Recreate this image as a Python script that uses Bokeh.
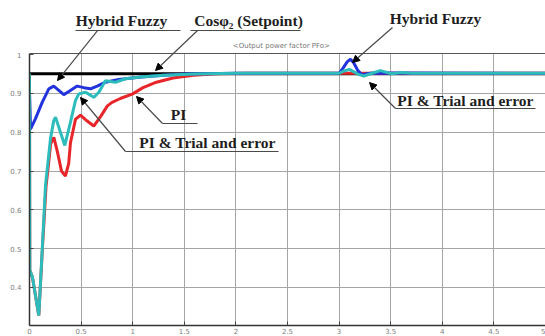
from bokeh.plotting import figure
from bokeh.models import Range1d, FixedTicker, Label, Arrow, NormalHead, Span, Grid
from bokeh.embed import file_html
from bokeh.resources import INLINE

# ---------------- data ----------------
x_ticks = [0, 0.5, 1, 1.5, 2, 2.5, 3, 3.5, 4, 4.5, 5]
x_tick_labels = ["0", "0.5", "1", "1.5", "2", "2.5", "3", "3.5", "4", "4.5", "5"]
y_ticks = [0.4, 0.5, 0.6, 0.7, 0.8, 0.9, 1.0]
y_tick_labels = ["0.4", "0.5", "0.6", "0.7", "0.8", "0.9", "1"]

setpoint_t = [0, 5]
setpoint_pf = [0.951, 0.951]

fuzzy_t = [0, 0.01, 0.058, 0.123, 0.187, 0.235, 0.284, 0.332, 0.381, 0.462, 0.526,
           0.591, 0.656, 0.736, 0.865, 1.059, 1.3, 1.5, 2.0, 3.0, 3.04, 3.08, 3.11,
           3.14, 3.18, 3.22, 3.3, 3.4, 5.0]
fuzzy_pf = [0.905, 0.808, 0.835, 0.877, 0.912, 0.919, 0.908, 0.897, 0.905, 0.919, 0.915,
            0.912, 0.919, 0.929, 0.936, 0.942, 0.947, 0.95, 0.952, 0.952, 0.966, 0.982, 0.988,
            0.98, 0.96, 0.948, 0.952, 0.953, 0.952]

trial_t = [0, 0.003, 0.029, 0.09, 0.12, 0.155, 0.203, 0.235, 0.252, 0.3, 0.342, 0.397,
           0.446, 0.478, 0.543, 0.594, 0.623, 0.672, 0.736, 0.833, 0.93, 1.1, 1.3, 1.6,
           2.0, 3.0, 3.05, 3.1, 3.18, 3.24, 3.32, 3.4, 3.51, 3.6, 3.7, 5.0]
trial_pf = [0.951, 0.444, 0.426, 0.328, 0.48, 0.663, 0.783, 0.83, 0.839, 0.8, 0.766, 0.826,
            0.882, 0.899, 0.903, 0.895, 0.89, 0.903, 0.933, 0.929, 0.938, 0.943, 0.947, 0.95,
            0.952, 0.952, 0.958, 0.962, 0.95, 0.945, 0.952, 0.959, 0.951, 0.954, 0.952, 0.952]

pi_t = [0, 0.003, 0.029, 0.09, 0.125, 0.16, 0.185, 0.205, 0.236, 0.27, 0.31, 0.348, 0.38,
        0.397, 0.446, 0.494, 0.559, 0.623, 0.69, 0.755, 0.8, 0.88, 1.0, 1.1, 1.23, 1.39,
        1.59, 1.81, 2.1, 5.0]
pi_pf = [0.951, 0.444, 0.426, 0.328, 0.5, 0.66, 0.72, 0.77, 0.787, 0.75, 0.7, 0.687, 0.72,
         0.773, 0.834, 0.844, 0.829, 0.816, 0.841, 0.868, 0.877, 0.887, 0.899, 0.915, 0.929, 0.94,
         0.947, 0.951, 0.952, 0.952]

# ---------------- layout ----------------
Y_BOT, Y_TOP = 0.302, 1.003          # visible plot box (value range)
PX_PER_X, PX_PER_Y = 103.2, 388.0
FRAME_LEFT, BOX_TOP = 29, 53

def dx(px):
    return (px - FRAME_LEFT) / PX_PER_X

def dy(py):
    return Y_TOP - (py - BOX_TOP) / PX_PER_Y

# the frame reaches the top of the canvas so the annotations above the box are not clipped
p = figure(width=545, height=336, x_range=Range1d(0, 5), y_range=Range1d(Y_BOT, dy(0)),
           output_backend="svg", toolbar_location=None,
           min_border_left=FRAME_LEFT, min_border_right=0, min_border_top=0, min_border_bottom=11)

p.background_fill_color = "white"
p.border_fill_color = "white"
p.outline_line_color = None

for ax, ticks, labels in ((p.xaxis, x_ticks, x_tick_labels), (p.yaxis, y_ticks, y_tick_labels)):
    ax.ticker = FixedTicker(ticks=ticks)
    ax.major_label_overrides = dict(zip(ticks, labels))
    ax.major_tick_in = 4
    ax.major_tick_out = 0
    ax.minor_tick_in = 0
    ax.minor_tick_out = 0
    ax.major_tick_line_color = "#444444"
    ax.axis_line_color = "#333333"
    ax.axis_line_width = 1.5
    ax.major_label_text_font = "DejaVu Sans"
    ax.major_label_text_font_size = "7px"
    ax.major_label_text_color = "#808080"

p.yaxis.bounds = (Y_BOT, Y_TOP)
p.xaxis.major_label_standoff = 2
p.yaxis.major_label_standoff = 8

grid_color = "#a5a5a5"
if "cross_bounds" in Grid.properties():
    p.xgrid.cross_bounds = (Y_BOT, Y_TOP)
    p.xgrid.grid_line_color = grid_color
else:
    p.xgrid.visible = False
    p.segment(x0=x_ticks[1:-1], y0=[Y_BOT] * (len(x_ticks) - 2),
              x1=x_ticks[1:-1], y1=[Y_TOP] * (len(x_ticks) - 2),
              line_color=grid_color, line_width=1)
p.ygrid.ticker = FixedTicker(ticks=y_ticks[:-1])
p.ygrid.grid_line_color = grid_color
p.xgrid.grid_line_width = 1
p.ygrid.grid_line_width = 1

# top border of the plot box
p.add_layout(Span(location=Y_TOP, dimension="width", line_color="#555555", line_width=1))

# curves
p.line(setpoint_t, setpoint_pf, line_color="black", line_width=3)
p.line(pi_t, pi_pf, line_color="#e8262a", line_width=3)
p.line(fuzzy_t, fuzzy_pf, line_color="#2233dd", line_width=3)
p.line(trial_t, trial_pf, line_color="#2cbcbc", line_width=3)

# ---------------- annotations ----------------
lab_style = dict(text_font="Liberation Serif", text_font_style="bold",
                 text_font_size="15.5px", text_color="#1e1e1e",
                 text_align="center", text_baseline="middle")

def add_label(text, px, py, **kw):
    st = dict(lab_style)
    st.update(kw)
    p.add_layout(Label(x=dx(px), y=dy(py), text=text, **st))

def add_line(x0, y0, x1, y1, head=False):
    end = NormalHead(size=7, fill_color="black", line_color="black") if head else None
    p.add_layout(Arrow(x_start=dx(x0), y_start=dy(y0), x_end=dx(x1), y_end=dy(y1),
                       end=end, line_color="#4a4a4a", line_width=1.2))

add_label("Hybrid Fuzzy", 121, 20)
add_line(75, 30, 180, 30)
add_line(97, 30, 57, 80, head=True)

add_label("Cosφ₂ (Setpoint)", 248, 20)
add_line(190, 30, 300, 30)
add_line(197, 30, 155, 70, head=True)

add_label("<Output power factor  PFo>", 282, 45, text_font="DejaVu Sans",
          text_font_style="normal", text_font_size="7px", text_color="#777777")

add_label("PI", 178, 114)
add_line(162, 123, 197, 123)
add_line(162, 123, 136, 96, head=True)

add_label("PI & Trial and error", 207, 142)
add_line(125, 151, 278, 151)
add_line(125, 151, 80, 97, head=True)

add_label("Hybrid Fuzzy", 435, 18)
add_line(392, 27, 352, 62, head=True)

add_label("PI & Trial and error", 465, 100)
add_line(395, 108, 535, 108)
add_line(395, 108, 369, 82, head=True)

open("out.html", "w").write(file_html(p, INLINE))
